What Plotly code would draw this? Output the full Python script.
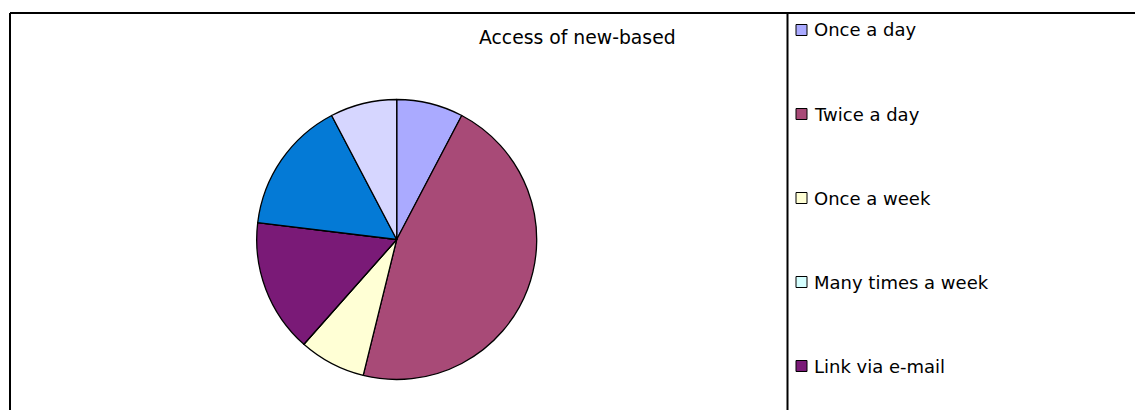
import plotly.graph_objects as go

W, H = 1135, 410

title_text = "Access of new-based"
categories = ["Once a day", "Twice a day", "Once a week", "Many times a week",
              "Link via e-mail", "Once a month", "Rarely", "Never"]
values = [1, 6, 1, 0, 2, 0, 2, 1]
colors = ["#AAAAFF", "#A84A77", "#FFFFD5", "#D5FFFF",
          "#7A1A77", "#FF8080", "#047AD6", "#D6D6FF"]

FONT = "DejaVu Sans"

def px(x):
    return x / W

def py(y):
    return 1 - y / H

fig = go.Figure()
fig.add_trace(go.Pie(
    labels=categories,
    values=values,
    sort=False,
    direction="clockwise",
    rotation=0,
    textinfo="none",
    hoverinfo="label+value+percent",
    marker=dict(colors=colors, line=dict(color="black", width=1.3)),
    showlegend=False,
    domain=dict(x=[px(256.7), px(536.7)], y=[py(379.5), py(99.5)]),
))

shapes = [
    dict(type="line", xref="paper", yref="paper", x0=px(10), x1=px(1135), y0=py(13), y1=py(13),
         line=dict(color="black", width=2)),
    dict(type="line", xref="paper", yref="paper", x0=px(10), x1=px(10), y0=py(13), y1=py(410),
         line=dict(color="black", width=2)),
    dict(type="line", xref="paper", yref="paper", x0=px(787.5), x1=px(787.5), y0=py(13), y1=py(410),
         line=dict(color="black", width=2)),
]
annotations = [
    dict(text=title_text, xref="paper", yref="paper", x=px(577), y=py(38),
         xanchor="center", yanchor="middle", showarrow=False,
         font=dict(family=FONT, size=18.8, color="black")),
]

# legend (only the entries that fit inside the visible frame, as in the reference)
for i, (cat, col) in enumerate(zip(categories, colors)):
    cy = 30 + 84 * i
    if cy + 12 > H:
        continue
    shapes.append(dict(type="rect", xref="paper", yref="paper",
                       x0=px(796), x1=px(807), y0=py(cy + 5.5), y1=py(cy - 5.5),
                       fillcolor=col, line=dict(color="black", width=1)))
    annotations.append(dict(text=cat, xref="paper", yref="paper", x=px(812), y=py(cy),
                            xanchor="left", yanchor="middle", showarrow=False,
                            font=dict(family=FONT, size=18, color="black")))

fig.update_layout(
    width=W, height=H,
    margin=dict(l=0, r=0, t=0, b=0),
    paper_bgcolor="white",
    plot_bgcolor="white",
    shapes=shapes,
    annotations=annotations,
)

fig.write_html("out.html", config={"displayModeBar": False})
